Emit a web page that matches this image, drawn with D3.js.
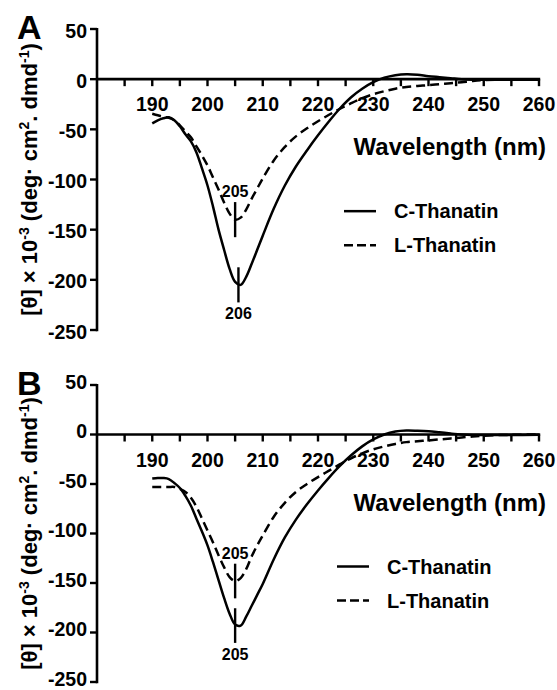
<!DOCTYPE html>
<html>
<head>
<meta charset="utf-8">
<script src="https://cdn.jsdelivr.net/npm/d3@7"></script>
<style>
  body { margin: 0; background: #fff; }
  text { font-family: "Liberation Sans", Arial, sans-serif; font-weight: bold; fill: #000; }
</style>
</head>
<body>
<div id="chart"></div>
<script>
// wavelength grid (nm) shared by all curves
const wavelengths = [190,191,192,193,194,195,196,197,198,199,200,201,202,203,204,205,206,207,208,209,210,
  212,214,216,218,220,222,224,226,228,230,232,234,236,238,240,242,244,246,248,250,255,260];

// panel A
const cThanatinA = [-44,-41,-39,-38,-41,-47,-55,-62,-73,-89,-106,-127,-150,-170,-189,-202,-205,-197,-184,-170,-156,
  -129,-106,-87,-71,-56,-42,-29,-18,-9.5,-3,1.5,4,5,4.5,3,2,1,0,-0.5,-0.5,-0.5,-0.5];
const lThanatinA = [-34.5,-36,-37.5,-38.5,-41,-46,-52,-58,-67,-76,-86,-98,-110,-123,-134,-140,-138,-130,-119,-109,-99,
  -81,-67.5,-57,-49,-42,-35.5,-29.5,-24,-19,-15,-12,-9.5,-7.7,-6.8,-6,-5,-4,-3,-1.8,-1,-0.3,0];

// panel B
const cThanatinB = [-44.5,-44,-44,-45,-49,-54,-62,-72,-85,-98,-112,-129,-147,-165,-181,-192,-193,-184,-173,-162,-151,
  -126,-104,-86,-70.5,-56.5,-43.5,-31.5,-21,-12,-5,0,3,4,3.8,3.3,2.2,1,0,-0.5,-0.5,-0.5,-0.3];
const lThanatinB = [-53,-53,-53,-53,-53,-55,-58,-64,-73,-85,-97,-109,-122,-134,-144,-148,-145,-136,-123,-112,-102,
  -83,-69,-58,-50,-43,-36.5,-30,-24,-19,-15,-12,-9.5,-7.7,-6.8,-6,-5,-4,-3,-2,-1.2,-0.3,0];

// peak markers: [L-Thanatin, C-Thanatin]
const peakPosA = [205, 205.6];
const peakTextA = ["205", "206"];
const peakPosB = [205, 205];
const peakTextB = ["205", "205"];

const seriesNames = ["C-Thanatin", "L-Thanatin"];
const xTicks = [190, 200, 210, 220, 230, 240, 250, 260];
const yTicks = [50, 0, -50, -100, -150, -200, -250];

const width = 557, height = 690;

const svg = d3.select("#chart")
  .append("svg")
  .attr("width", width)
  .attr("height", height);

const panels = [
  { letter: "A", c: cThanatinA, l: lThanatinA, peakPos: peakPosA, peakText: peakTextA, top: 29, bottom: 330, labDy: 8.5, legX: 344 },
  { letter: "B", c: cThanatinB, l: lThanatinB, peakPos: peakPosB, peakText: peakTextB, top: 385, bottom: 682, labDy: 3.5, legX: 337 }
];

panels.forEach(drawPanel);

function drawPanel(p) {
  const g = svg.append("g");

  const x = d3.scaleLinear().domain([180, 260]).range([97, 539]);
  const y = d3.scaleLinear().domain([-250, 50]).range([p.bottom, p.top]);
  const y0 = y(0);

  // y axis
  g.append("line")
    .attr("x1", x(180)).attr("x2", x(180))
    .attr("y1", y(50) - 1).attr("y2", y(-250) + 1.2)
    .attr("stroke", "#000").attr("stroke-width", 2.6);

  g.selectAll(".ytick")
    .data(yTicks)
    .enter().append("line")
    .attr("x1", x(180) - 7).attr("x2", x(180))
    .attr("y1", d => y(d)).attr("y2", d => y(d))
    .attr("stroke", "#000").attr("stroke-width", 2.4);

  g.selectAll(".ylab")
    .data(yTicks)
    .enter().append("text")
    .attr("x", 87)
    .attr("y", d => y(d) + p.labDy)
    .attr("text-anchor", "end")
    .style("font-size", "19.5px")
    .text(d => d);

  // x axis sitting at zero
  g.append("line")
    .attr("x1", x(180)).attr("x2", x(260) + 1.2)
    .attr("y1", y0).attr("y2", y0)
    .attr("stroke", "#000").attr("stroke-width", 2.6);

  g.selectAll(".xtick")
    .data(d3.range(185, 261, 5))
    .enter().append("line")
    .attr("x1", d => x(d)).attr("x2", d => x(d))
    .attr("y1", y0).attr("y2", y0 + 7)
    .attr("stroke", "#000").attr("stroke-width", 2.4);

  g.selectAll(".xlab")
    .data(xTicks)
    .enter().append("text")
    .attr("x", d => x(d))
    .attr("y", y0 + 32)
    .attr("text-anchor", "middle")
    .style("font-size", "19.5px")
    .text(d => d);

  g.append("text")
    .attr("x", 546)
    .attr("y", y0 + 76)
    .attr("text-anchor", "end")
    .style("font-size", "24px")
    .text("Wavelength (nm)");

  // panel letter
  g.append("text")
    .attr("x", 17)
    .attr("y", p.top + 10)
    .style("font-size", "34px")
    .text(p.letter);

  // y axis title
  const yt = g.append("text")
    .attr("transform", `translate(37,${(p.top + p.bottom) / 2}) rotate(-90)`)
    .attr("text-anchor", "middle")
    .style("font-size", "22px");
  yt.append("tspan").text("[θ] × 10");
  yt.append("tspan").attr("dy", -8).style("font-size", "14px").text("-3");
  yt.append("tspan").attr("dy", 8).text(" (deg· cm");
  yt.append("tspan").attr("dy", -8).style("font-size", "14px").text("2");
  yt.append("tspan").attr("dy", 8).text(". dmd");
  yt.append("tspan").attr("dy", -8).style("font-size", "14px").text("-1");
  yt.append("tspan").attr("dy", 8).text(")");

  // curves
  const line = d3.line()
    .x((d, i) => x(wavelengths[i]))
    .y(d => y(d))
    .curve(d3.curveCatmullRom);

  g.append("path")
    .datum(p.c)
    .attr("d", line)
    .attr("fill", "none")
    .attr("stroke", "#000")
    .attr("stroke-width", 2.5);

  g.append("path")
    .datum(p.l)
    .attr("d", line)
    .attr("fill", "none")
    .attr("stroke", "#000")
    .attr("stroke-width", 2.5)
    .attr("stroke-dasharray", "9,5");

  // peak markers
  const minL = d3.min(p.l), minC = d3.min(p.c);
  const markers = [
    { w: p.peakPos[0], v: minL, text: p.peakText[0], above: true },
    { w: p.peakPos[1], v: minC, text: p.peakText[1], above: false }
  ];
  markers.forEach(m => {
    g.append("line")
      .attr("x1", x(m.w)).attr("x2", x(m.w))
      .attr("y1", y(m.v + 17.5)).attr("y2", y(m.v - 17.5))
      .attr("stroke", "#000").attr("stroke-width", 2.4);
    g.append("text")
      .attr("x", x(m.w))
      .attr("y", m.above ? y(m.v + 17.5) - 5 : y(m.v - 17.5) + 17)
      .attr("text-anchor", "middle")
      .style("font-size", "16px")
      .text(m.text);
  });

  // legend
  const legY = [y0 + 132, y0 + 166];
  seriesNames.forEach((name, i) => {
    g.append("line")
      .attr("x1", p.legX).attr("x2", p.legX + 32)
      .attr("y1", legY[i]).attr("y2", legY[i])
      .attr("stroke", "#000").attr("stroke-width", 2.5)
      .attr("stroke-dasharray", i === 1 ? "9,4" : null);
    g.append("text")
      .attr("x", p.legX + 50)
      .attr("y", legY[i] + 7)
      .style("font-size", "20px")
      .text(name);
  });
}
</script>
</body>
</html>
